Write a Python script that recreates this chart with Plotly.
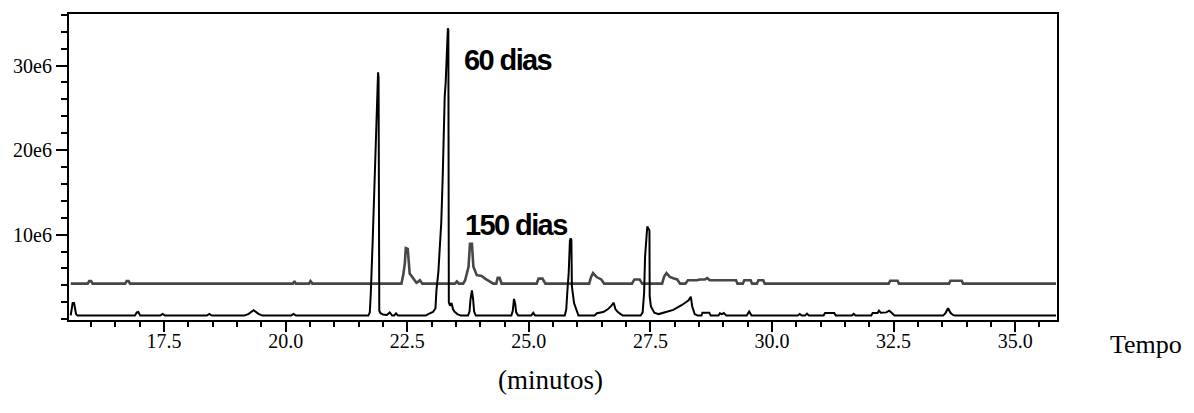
import plotly.graph_objects as go

# ---- data ----
t_60 = [15.58, 15.60, 15.62, 15.65, 15.67, 15.69, 15.72, 16.90, 16.94, 16.97, 17.01,
        17.42, 17.47, 17.52, 18.38, 18.43, 18.48, 19.15, 19.24, 19.34, 19.44, 19.52,
        20.11, 20.16, 20.21, 21.70, 21.73, 21.75, 21.79, 21.82, 21.85, 21.87, 21.885,
        21.90, 21.91, 21.925, 21.95, 22.00, 22.08, 22.14, 22.19, 22.23, 22.27, 22.31,
        22.88, 22.93, 23.03, 23.08, 23.10, 23.14, 23.17, 23.20, 23.23, 23.25, 23.27,
        23.29, 23.31, 23.325, 23.335, 23.345, 23.355, 23.38, 23.41, 23.44, 23.47, 23.53,
        23.60, 23.75, 23.78, 23.80, 23.83, 23.855, 23.875, 23.91, 24.64, 24.67, 24.695,
        24.72, 24.74, 24.78, 25.05, 25.09, 25.13, 25.74, 25.77, 25.79, 25.82, 25.845,
        25.86, 25.875, 25.885, 25.93, 25.98, 26.02, 26.35, 26.40, 26.53, 26.63, 26.70,
        26.745, 26.78, 26.83, 26.93, 27.30, 27.34, 27.37, 27.39, 27.42, 27.435, 27.48,
        27.485, 27.51, 27.58, 27.67, 27.80, 27.97, 28.14, 28.28, 28.33, 28.36, 28.41,
        28.47, 28.55, 28.57, 28.71, 28.74, 28.90, 28.93, 28.97, 29.01, 29.06, 29.48,
        29.53, 29.58, 30.53, 30.57, 30.61, 30.68, 30.72, 30.76, 31.06, 31.09, 31.28,
        31.31, 31.64, 31.68, 31.72, 32.04, 32.07, 32.17, 32.20, 32.24, 32.35, 32.41,
        32.46, 32.52, 33.52, 33.57, 33.62, 33.67, 33.72, 33.76, 35.84]
y_60 = [0.45, 1.2, 1.9, 1.9, 1.4, 0.6, 0.42, 0.42, 0.8, 0.85, 0.42,
        0.42, 0.62, 0.42, 0.42, 0.62, 0.42, 0.42, 0.62, 1.05, 0.62, 0.42,
        0.42, 0.62, 0.42, 0.42, 0.8, 3.0, 9.4, 14.5, 18.8, 22.0, 25.5,
        29.2, 28.6, 1.0, 0.7, 0.55, 0.5, 0.8, 0.42, 0.42, 0.7, 0.42,
        0.42, 0.6, 0.85, 1.3, 3.4, 5.6, 8.5, 11.5, 17.0, 22.0, 26.3,
        28.0, 31.0, 34.0, 34.4, 34.2, 2.0, 1.6, 1.9, 1.2, 0.9, 0.6,
        0.42, 0.42, 0.9, 2.3, 3.4, 2.3, 0.9, 0.42, 0.42, 1.0, 2.4,
        1.8, 0.8, 0.42, 0.42, 0.75, 0.42, 0.42, 1.2, 3.1, 5.5, 9.3,
        9.55, 9.4, 3.9, 1.9, 0.9, 0.42, 0.42, 0.7, 0.84, 1.2, 1.6,
        1.95, 1.2, 0.84, 0.42, 0.42, 0.8, 3.1, 7.4, 10.8, 10.95, 10.5,
        2.7, 1.5, 0.77, 0.6, 0.8, 1.1, 1.65, 2.2, 2.66, 1.5, 0.6,
        0.42, 0.42, 0.77, 0.77, 0.42, 0.42, 0.7, 0.6, 0.72, 0.42, 0.42,
        0.9, 0.42, 0.42, 0.6, 0.42, 0.42, 0.65, 0.42, 0.42, 0.72, 0.72,
        0.42, 0.42, 0.62, 0.42, 0.42, 0.72, 0.72, 1.0, 0.75, 0.8, 1.0,
        0.75, 0.42, 0.42, 0.75, 1.3, 0.75, 0.5, 0.42, 0.42]

t_150 = [15.58, 15.93, 15.96, 16.00, 16.03, 16.70, 16.73, 16.77, 16.80, 20.15, 20.18,
         20.21, 20.48, 20.51, 20.55, 22.38, 22.42, 22.45, 22.47, 22.51, 22.55, 22.62,
         22.69, 22.72, 22.76, 22.81, 23.48, 23.52, 23.56, 23.65, 23.69, 23.76, 23.79,
         23.83, 23.86, 23.93, 24.03, 24.10, 24.20, 24.27, 24.33, 24.36, 24.40, 24.44,
         25.16, 25.20, 25.28, 25.34, 26.24, 26.28, 26.32, 26.40, 26.49, 26.55, 27.12,
         27.17, 27.28, 27.33, 27.74, 27.78, 27.83, 27.90, 27.97, 28.05, 28.11, 28.22,
         28.27, 28.45, 28.52, 28.62, 28.67, 28.72, 29.26, 29.29, 29.40, 29.43, 29.56,
         29.59, 29.69, 29.72, 29.82, 29.85, 32.40, 32.43, 32.58, 32.61, 33.64, 33.67,
         33.90, 33.93, 35.84]
y_150 = [4.2, 4.2, 4.5, 4.5, 4.2, 4.2, 4.5, 4.5, 4.2, 4.2, 4.5,
         4.2, 4.2, 4.5, 4.2, 4.2, 5.3, 6.6, 8.4, 8.3, 5.4, 4.8,
         4.3, 4.4, 4.6, 4.2, 4.2, 4.45, 4.2, 4.2, 4.6, 6.2, 8.9,
         8.9, 6.2, 5.2, 5.1, 4.8, 4.4, 4.2, 4.2, 4.9, 4.9, 4.2,
         4.2, 4.8, 4.8, 4.2, 4.2, 5.0, 5.45, 4.95, 4.7, 4.2, 4.2,
         4.7, 4.7, 4.2, 4.2, 5.0, 5.45, 5.0, 4.85, 4.7, 4.2, 4.2,
         4.6, 4.6, 4.7, 4.7, 4.85, 4.6, 4.6, 4.2, 4.2, 4.6, 4.6,
         4.2, 4.2, 4.6, 4.6, 4.2, 4.2, 4.55, 4.55, 4.2, 4.2, 4.55,
         4.55, 4.2, 4.2]

y_tick_vals = [10e6, 20e6, 30e6]
y_tick_text = ["10e6", "20e6", "30e6"]
label_60 = "60 dias"
label_150 = "150 dias"

SCALE = 1e6
X_RANGE = [15.545, 35.86]

fig = go.Figure()
fig.add_trace(go.Scatter(x=t_150, y=[v * SCALE for v in y_150], mode="lines",
                         line=dict(color="#474747", width=2.6), name=label_150,
                         showlegend=False))
fig.add_trace(go.Scatter(x=t_60, y=[v * SCALE for v in y_60], mode="lines",
                         line=dict(color="#000000", width=2), name=label_60,
                         showlegend=False))

serif = "Liberation Serif, Times New Roman, serif"
sans = "Liberation Sans, Arial, sans-serif"

fig.update_layout(
    width=1194, height=413,
    margin=dict(l=69, r=137, t=14, b=93),
    paper_bgcolor="white", plot_bgcolor="white",
    font=dict(family=serif, color="black", size=20),
    # labels-only axis (short ticks so labels sit close to the frame)
    xaxis=dict(
        range=X_RANGE, showgrid=False, zeroline=False,
        showline=True, linecolor="black", linewidth=2, mirror=True,
        ticks="outside", ticklen=2, tickwidth=2, tickcolor="rgba(0,0,0,0)",
        tick0=0, dtick=2.5, tickformat=".1f",
        tickfont=dict(family=serif, size=20, color="black"),
    ),
    # tick-marks-only axis overlaid on the same scale
    xaxis2=dict(
        range=X_RANGE, overlaying="x", matches="x", side="bottom", anchor="y",
        showgrid=False, zeroline=False, showline=False, showticklabels=False,
        ticks="outside", ticklen=11, tickwidth=2, tickcolor="black",
        tick0=0, dtick=2.5,
        minor=dict(ticks="outside", ticklen=6, tickwidth=2, tickcolor="black",
                   tick0=0, dtick=0.5, showgrid=False),
    ),
    yaxis=dict(
        range=[-0.1e6, 36.1e6], showgrid=False, zeroline=False,
        showline=True, linecolor="black", linewidth=2, mirror=True,
        ticks="outside", ticklen=11, tickwidth=2, tickcolor="black",
        tickmode="array", tickvals=y_tick_vals, ticktext=y_tick_text,
        tickfont=dict(family=serif, size=20, color="black"),
        minor=dict(ticks="outside", ticklen=6, tickwidth=2, tickcolor="black",
                   tickmode="linear", tick0=0, dtick=2e6, showgrid=False),
    ),
)
# invisible carrier trace so the overlaid tick axis is drawn
fig.add_trace(go.Scatter(x=X_RANGE, y=[None, None], xaxis="x2", yaxis="y",
                         mode="lines", showlegend=False, hoverinfo="skip"))

label_style = "letter-spacing:-1.6px"
fig.add_annotation(x=23.63, y=30.7e6,
                   text=f'<span style="{label_style}">{label_60}</span>',
                   showarrow=False, xanchor="left", yanchor="middle",
                   font=dict(family=sans, size=29, color="black", weight="bold"))
fig.add_annotation(x=23.65, y=11.15e6,
                   text=f'<span style="{label_style}">{label_150}</span>',
                   showarrow=False, xanchor="left", yanchor="middle",
                   font=dict(family=sans, size=29, color="black", weight="bold"))
fig.add_annotation(xref="paper", yref="paper", x=1.052, y=-0.08, text="Tempo",
                   showarrow=False, xanchor="left", yanchor="middle",
                   font=dict(family=serif, size=26, color="black"))
fig.add_annotation(xref="paper", yref="paper", x=0.487, y=-0.196, text="(minutos)",
                   showarrow=False, xanchor="center", yanchor="middle",
                   font=dict(family=serif, size=27, color="black"))

fig.write_html("out.html")
